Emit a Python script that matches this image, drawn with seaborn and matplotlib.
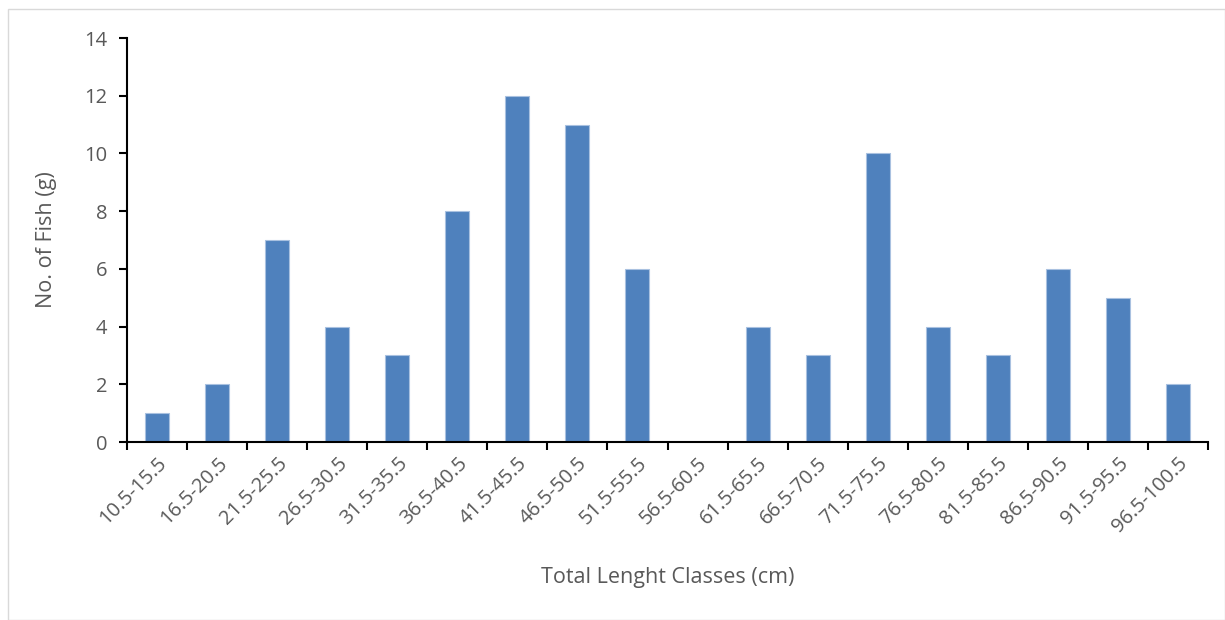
import pandas as pd
import matplotlib
matplotlib.use("Agg")
import matplotlib.pyplot as plt
import seaborn as sns
from matplotlib.patches import Rectangle
import numpy as np

classes = ['10.5-15.5', '16.5-20.5', '21.5-25.5', '26.5-30.5', '31.5-35.5', '36.5-40.5',
           '41.5-45.5', '46.5-50.5', '51.5-55.5', '56.5-60.5', '61.5-65.5', '66.5-70.5',
           '71.5-75.5', '76.5-80.5', '81.5-85.5', '86.5-90.5', '91.5-95.5', '96.5-100.5']
counts = [1, 2, 7, 4, 3, 8, 12, 11, 6, 0, 4, 3, 10, 4, 3, 6, 5, 2]

sns.set_style("white")
plt.rcParams['font.family'] = ['Open Sans', 'DejaVu Sans']

df = pd.DataFrame({'cls': classes, 'n': counts})

fig = plt.figure(figsize=(12.25, 6.2), dpi=100)
ax = fig.add_axes([127/1225, 1 - 442/620, (1208-127)/1225, (442-38)/620])

sns.barplot(data=df, x='cls', y='n', color='#4F81BD', width=0.4, saturation=1,
            edgecolor='#a9c1e0', linewidth=0.8, ax=ax)

ax.set_ylim(0, 14)
ax.set_yticks(range(0, 15, 2))
ax.set_xlim(-0.5, len(classes) - 0.5)

# tick marks between categories like excel
ax.set_xticks(np.arange(-0.5, len(classes)), minor=True)
ax.tick_params(axis='x', which='major', length=0, pad=8, bottom=True)
ax.tick_params(axis='x', which='minor', length=6, width=1.5, color='black',
               direction='out', bottom=True)
ax.tick_params(axis='y', length=6, width=1.5, color='black', direction='out', pad=8, left=True)
ax.tick_params(labelsize=14.5, labelcolor='#595959')
plt.setp(ax.get_xticklabels(), rotation=45, ha='right', rotation_mode='anchor')

for s in ['top', 'right']:
    ax.spines[s].set_visible(False)
for s in ['left', 'bottom']:
    ax.spines[s].set_color('black')
    ax.spines[s].set_linewidth(1.5)

ax.set_xlabel('Total Lenght Classes (cm)', fontsize=15.5, color='#595959', labelpad=22)
ax.set_ylabel('No. of Fish (g)', fontsize=15.5, color='#595959', labelpad=20)

fig.patches.append(Rectangle((8/1225, 0), 1 - 8/1225, 1 - 9/620, transform=fig.transFigure,
                             fill=False, edgecolor='#d9d9d9', linewidth=1))

fig.savefig('out.png', dpi=100)
